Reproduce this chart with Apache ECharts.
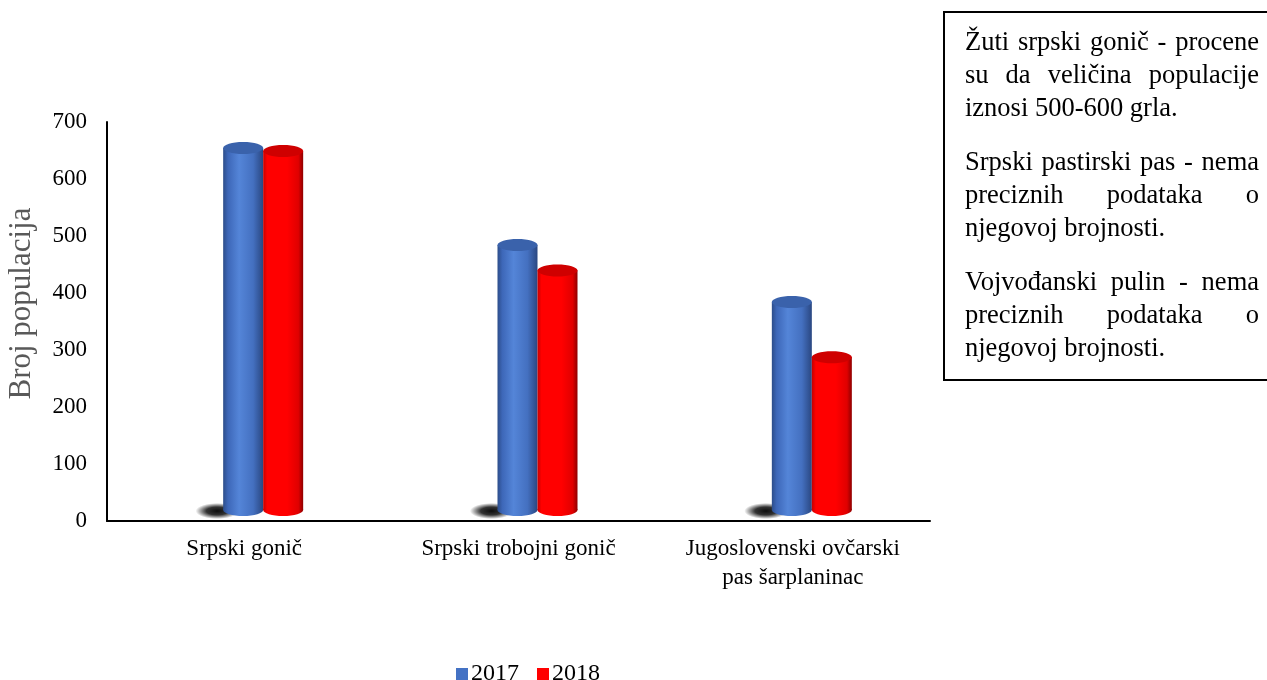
<!DOCTYPE html>
<html>
<head>
<meta charset="utf-8">
<title>Broj populacija</title>
<script src="https://cdn.jsdelivr.net/npm/echarts@6/dist/echarts.min.js"></script>
<style>
  html, body { margin: 0; padding: 0; background: #ffffff; }
  #chart { width: 1267px; height: 680px; }
</style>
</head>
<body>
<div id="chart"></div>
<script>
// data
const categories = ['Srpski gonič', 'Srpski trobojni gonič', 'Jugoslovenski ovčarski\npas šarplaninac']
const years = ['2017', '2018']
const values2017 = [635, 465, 365]
const values2018 = [630, 420, 268]
const yMin = 0
const yMax = 700
const yStep = 100

const noteParagraphs = [
  ['Žuti srpski gonič - procene', 'su da veličina populacije', 'iznosi 500-600 grla.'],
  ['Srpski pastirski pas - nema', 'preciznih podataka o', 'njegovoj brojnosti.'],
  ['Vojvođanski pulin - nema', 'preciznih podataka o', 'njegovoj brojnosti.']
]

const serif = '"Liberation Serif", "Times New Roman", serif'

const chart = echarts.init(document.getElementById('chart'))

// 3d-ish cylinder drawn from the value through the axis scale
function cylinder(offset, width, bodyStops, topColor, withShadow) {
  return function(params, api) {
    const cat = api.value(0)
    const top = api.coord([cat, api.value(1)])
    const base = api.coord([cat, 0])
    const lift = 11 // bars sit back in depth
    const x = top[0] + offset
    const topY = top[1] - lift
    const baseY = base[1] - lift
    const rx = width / 2
    const ry = 6
    const grad = new echarts.graphic.LinearGradient(0, 0, 1, 0, bodyStops)
    const children = []
    if (withShadow) {
      // soft floor shadow, a blurred circle squashed into an ellipse
      children.push({
        type: 'circle',
        x: x - 6,
        y: baseY + 1,
        scaleX: 2.7,
        shape: { cx: 0, cy: 0, r: 8 },
        style: {
          fill: new echarts.graphic.RadialGradient(0.5, 0.5, 0.5, [
            { offset: 0, color: 'rgba(0,0,0,0.95)' },
            { offset: 0.5, color: 'rgba(0,0,0,0.8)' },
            { offset: 1, color: 'rgba(0,0,0,0)' }
          ])
        }
      })
    }
    children.push({ type: 'rect', shape: { x: x, y: topY, width: width, height: baseY - topY }, style: { fill: grad } })
    children.push({ type: 'ellipse', shape: { cx: x + rx, cy: baseY, rx: rx, ry: ry }, style: { fill: grad } })
    children.push({ type: 'ellipse', shape: { cx: x + rx, cy: topY, rx: rx, ry: ry }, style: { fill: topColor } })
    return { type: 'group', children: children }
  }
}

const blueStops = [
  { offset: 0, color: '#2c4d8a' },
  { offset: 0.12, color: '#3d67b8' },
  { offset: 0.4, color: '#5485d8' },
  { offset: 0.75, color: '#4470c0' },
  { offset: 1, color: '#2a4781' }
]
const redStops = [
  { offset: 0, color: '#c40000' },
  { offset: 0.1, color: '#ff0000' },
  { offset: 0.6, color: '#ff0000' },
  { offset: 0.88, color: '#e00000' },
  { offset: 1, color: '#8e0000' }
]

// text box on the right, justified like the original
const measure = document.createElement('canvas').getContext('2d')
const noteFont = '26.5px ' + serif
measure.font = noteFont
function noteLines() {
  const left = 965
  const right = 1259
  const lineH = 33
  const paraGap = 21
  const out = []
  let y = 43
  noteParagraphs.forEach(function(lines) {
    lines.forEach(function(line, i) {
      const words = line.split(' ')
      const last = i === lines.length - 1
      if (last || words.length === 1) {
        out.push({ type: 'text', x: left, y: y, style: { text: line, font: noteFont, fill: '#000', verticalAlign: 'middle' } })
      } else {
        const widths = words.map(function(w) { return measure.measureText(w).width })
        const total = widths.reduce(function(a, b) { return a + b }, 0)
        const gap = (right - left - total) / (words.length - 1)
        let x = left
        words.forEach(function(w, k) {
          out.push({ type: 'text', x: x, y: y, style: { text: w, font: noteFont, fill: '#000', verticalAlign: 'middle' } })
          x += widths[k] + gap
        })
      }
      y += lineH
    })
    y += paraGap
  })
  return out
}

chart.setOption({
  backgroundColor: '#ffffff',
  animation: false,
  grid: {
    left: 107,
    right: 337,
    top: 122,
    bottom: 159,
    outerBoundsMode: 'none'
  },
  legend: {
    data: years,
    left: 451,
    top: 657,
    icon: 'rect',
    itemWidth: 12,
    itemHeight: 12,
    itemGap: 18,
    textStyle: { fontFamily: serif, fontSize: 24, color: '#000', padding: [0, 0, 0, -2] }
  },
  xAxis: {
    type: 'category',
    data: categories,
    axisLine: { lineStyle: { color: '#000', width: 2 } },
    axisTick: { show: false },
    axisLabel: {
      margin: 13,
      interval: 0,
      fontFamily: serif,
      fontSize: 23,
      lineHeight: 29,
      color: '#000'
    }
  },
  yAxis: {
    type: 'value',
    min: yMin,
    max: yMax,
    interval: yStep,
    name: 'Broj populacija',
    nameLocation: 'middle',
    nameRotate: 90,
    nameGap: 70,
    nameTextStyle: { fontFamily: serif, fontSize: 31, color: '#595959', padding: [0, 0, 0, 36] },
    axisLine: { show: true, lineStyle: { color: '#000', width: 2 } },
    axisTick: { show: false },
    splitLine: { show: false },
    axisLabel: { margin: 20, fontFamily: serif, fontSize: 23, color: '#000' }
  },
  graphic: [
    {
      type: 'rect',
      shape: { x: 944, y: 12, width: 340, height: 368 },
      style: { fill: '#fff', stroke: '#000', lineWidth: 2 }
    },
    {
      type: 'group',
      children: noteLines()
    }
  ],
  series: [
    {
      name: years[0],
      type: 'custom',
      itemStyle: { color: '#4472C4' },
      renderItem: cylinder(-21, 40, blueStops, '#3a62ab', true),
      encode: { x: 0, y: 1 },
      data: values2017.map(function(v, i) { return [i, v] })
    },
    {
      name: years[1],
      type: 'custom',
      itemStyle: { color: '#FF0000' },
      renderItem: cylinder(19, 40, redStops, '#cf0000', false),
      encode: { x: 0, y: 1 },
      data: values2018.map(function(v, i) { return [i, v] })
    }
  ]
})
</script>
</body>
</html>
